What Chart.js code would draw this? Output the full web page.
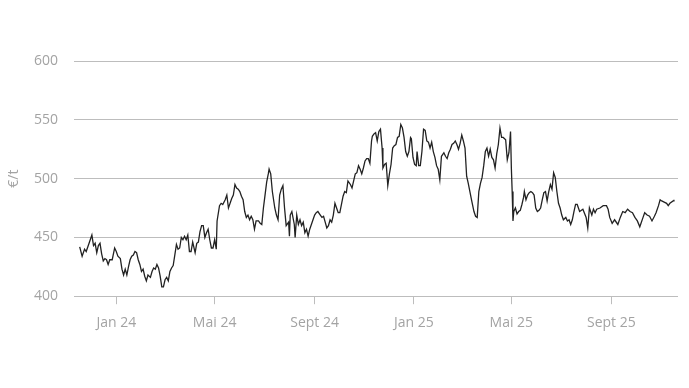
<!DOCTYPE html>
<html>
<head>
<meta charset="utf-8">
<script src="https://cdn.jsdelivr.net/npm/chart.js@4/dist/chart.umd.min.js"></script>
<style>
  html, body { margin: 0; padding: 0; background: #fff; }
  #wrap { width: 689px; height: 388px; }
</style>
</head>
<body>
<div id="wrap"><canvas id="priceChart"></canvas></div>
<script>
// days counted from 1 Jan 2024
const days = [
  -45, -42, -39, -37, -34, -30, -28, -26, -24, -22, -20, -18, -16, -14, -12, -10, -8, -5, -2,
  0, 2, 5, 7, 9, 11, 13, 15, 17, 19, 21, 23, 25, 27, 29, 31, 33, 35, 37, 39, 42, 44, 46, 48, 50,
  52, 54, 56, 58, 60, 62, 64, 66, 68, 70, 72, 74, 76, 78, 80, 82, 84, 86, 88, 90, 92, 94, 97, 99,
  101, 103, 105, 107, 109, 111, 113, 115, 117, 119, 121, 123, 124, 127, 129, 131, 134, 136, 138,
  140, 142, 144, 146, 148, 150, 152, 154, 156, 158, 160, 162, 164, 166, 168, 170, 172, 175, 177,
  179, 181, 183, 185, 187, 188, 190, 192, 195, 197, 199, 201, 203, 205, 207, 209, 212, 213, 214,
  216, 219, 220, 222, 224, 226, 228, 230, 232, 234, 236, 238, 240, 242, 244, 246, 248, 251, 253,
  255, 257, 259, 261, 263, 265, 267, 269, 271, 273, 275, 277, 279, 281, 283, 285, 288, 290, 292,
  294, 296, 298, 300, 302, 304, 306, 308, 310, 312, 314, 315, 317, 319, 321, 323, 325, 327, 328,
  330, 332, 334, 336, 338, 340, 342, 344, 346, 348, 350, 352, 354, 356, 358, 360, 362, 363, 365,
  367, 369, 370, 372, 374, 376, 378, 380, 382, 384, 386, 388, 390, 392, 394, 396, 398, 400, 401,
  403, 405, 407, 409, 411, 413, 415, 417, 419, 421, 423, 425, 427, 429, 431, 433, 435, 437, 440,
  442, 444, 446, 448, 450, 452, 454, 456, 458, 460, 462, 464, 466, 468, 470, 472, 474, 476, 479,
  481, 483, 485, 486, 487, 488, 489, 491, 493, 495, 497, 499, 501, 502, 504, 506, 508, 510, 512,
  514, 516, 518, 520, 522, 524, 526, 528, 530, 532, 534, 536, 538, 540, 542, 544, 546, 548, 550,
  553, 555, 557, 559, 561, 563, 565, 567, 570, 574, 578, 580, 582, 585, 587, 589, 591, 595, 599,
  603, 605, 607, 610, 613, 617, 620, 623, 626, 629, 632, 635, 638, 641, 644, 648, 650, 653, 656,
  659, 662, 664, 667, 669, 671, 674, 677, 679, 681, 685, 686
];

const prices = [
  442, 434, 440, 438, 444, 452, 443, 445, 437, 443, 445, 436, 430, 432, 431, 427, 431, 431, 441,
  438, 434, 432, 423, 418, 423, 418, 425, 431, 434, 435, 438, 437, 431, 427, 421, 423, 417, 413, 418, 416,
  421, 424, 423, 427, 424, 417, 408, 408, 414, 416, 413, 421, 424, 426, 435, 444, 440, 441, 450, 448,
  451, 448, 452, 438, 438, 446, 437, 445, 446, 455, 460, 460, 450, 454, 457, 448, 441, 441, 448, 440,
  464, 477, 479, 478, 482, 486, 475, 479, 483, 486, 495, 492, 491, 489, 485, 482, 472, 467, 469, 465,
  468, 465, 457, 464, 464, 462, 461, 475, 486, 497, 504, 508, 504, 489, 475, 469, 465, 486, 491, 494,
  475, 460, 463, 451, 469, 472, 461, 450, 469, 461, 465, 460, 463, 454, 457, 451, 457, 461, 465, 469,
  471, 472, 469, 467, 468, 463, 458, 460, 465, 463, 469, 479, 475, 471, 471, 478, 485, 489, 488, 498,
  495, 492, 498, 504, 505, 511, 508, 504, 509, 515, 517, 517, 513, 532, 536, 538, 539, 532, 540, 542,
  526, 509, 512, 513, 494, 504, 512, 526, 528, 529, 535, 536, 546, 543, 535, 523, 519, 523, 535, 534,
  518, 512, 511, 523, 511, 511, 523, 542, 541, 532, 531, 526, 531, 523, 518, 511, 508, 499, 519, 520,
  522, 519, 517, 522, 525, 529, 530, 532, 529, 525, 530, 537, 532, 526, 502, 496, 489, 482, 472, 468,
  467, 489, 496, 501, 511, 523, 526, 519, 525, 518, 516, 509, 521, 529, 543, 535, 535, 533, 516, 522,
  540, 509, 489, 464, 472, 475, 470, 472, 473, 478, 484, 489, 482, 486, 488, 489, 488, 486, 475, 472,
  473, 475, 482, 488, 489, 481, 489, 495, 491, 505, 501, 489, 479, 475, 469, 465, 467, 464, 465, 461,
  465, 472, 478, 478, 472, 474, 467, 458, 475, 469, 474, 471, 474, 475, 477, 477, 474, 467, 462, 465,
  461, 467, 472, 471, 474, 472, 471, 467, 464, 459, 467, 471, 469, 468, 464, 468, 471, 477, 482, 481,
  480, 479, 477, 479, 481, 482
];

const tickDays = [0, 121, 244, 366, 486, 609];
const tickLabels = ['Jan 24', 'Mai 24', 'Sept 24', 'Jan 25', 'Mai 25', 'Sept 25'];

const points = days.map((d, i) => ({ x: d, y: prices[i] }));
const textGrey = '#a3a3a3';
const lineGrey = '#bdbdbd';

Chart.defaults.font.family = "'Open Sans', 'Noto Sans', sans-serif";
Chart.defaults.font.size = 14;
Chart.defaults.color = textGrey;

new Chart(document.getElementById('priceChart').getContext('2d'), {
    type: 'line',
    data: {
        datasets: [{
            data: points,
            borderColor: '#222222',
            borderWidth: 1.3,
            pointRadius: 0,
            tension: 0,
            fill: false
        }]
    },
    options: {
        responsive: true,
        maintainAspectRatio: false,
        animation: false,
        plugins: {
            legend: { display: false },
            tooltip: { enabled: false }
        },
        layout: {
            padding: { top: 61, right: 11, bottom: 47, left: 0 }
        },
        scales: {
            x: {
                type: 'linear',
                min: -52,
                max: 691,
                afterBuildTicks: function (scale) {
                    scale.ticks = tickDays.map(v => ({ value: v }));
                },
                ticks: {
                    autoSkip: false,
                    maxRotation: 0,
                    padding: 10,
                    color: textGrey,
                    callback: function (value) {
                        const i = tickDays.indexOf(value);
                        return i >= 0 ? tickLabels[i] : '';
                    }
                },
                grid: {
                    drawOnChartArea: false,
                    drawTicks: true,
                    tickLength: 8,
                    color: lineGrey
                },
                border: { display: false }
            },
            y: {
                min: 400,
                max: 600,
                afterFit: function (scale) {
                    scale.width = 74;
                },
                ticks: {
                    stepSize: 50,
                    padding: 16,
                    color: textGrey
                },
                grid: {
                    color: lineGrey,
                    drawTicks: false,
                    lineWidth: 1
                },
                border: { display: false },
                title: {
                    display: true,
                    text: '€/t',
                    color: textGrey,
                    padding: { top: 6, bottom: 0 }
                }
            }
        }
    }
});
</script>
</body>
</html>
